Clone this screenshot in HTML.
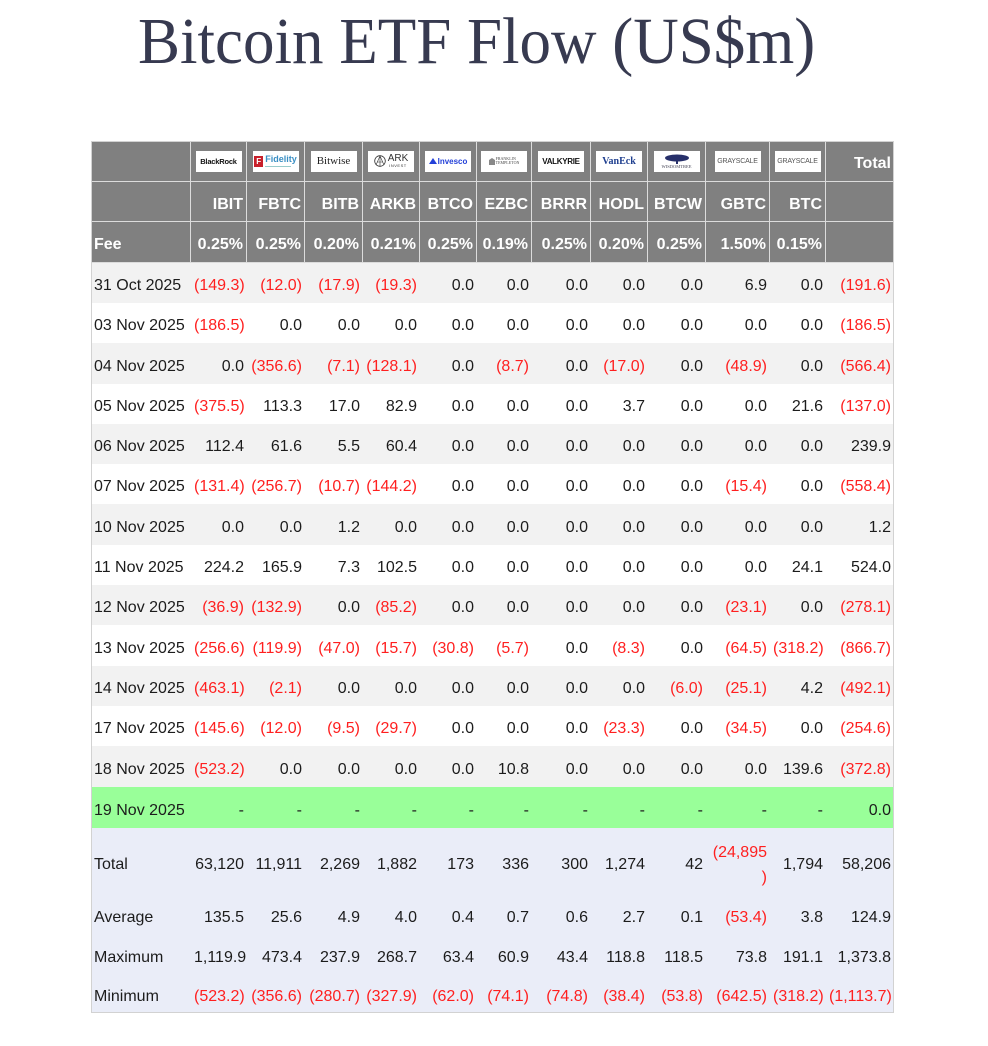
<!DOCTYPE html>
<html><head><meta charset="utf-8">
<style>
*{margin:0;padding:0;box-sizing:border-box}
html,body{width:988px;height:1046px;background:#fff;overflow:hidden}
body{position:relative;font-family:"Liberation Sans",Arial,sans-serif}
.title{position:absolute;left:138px;top:11px;font-family:"Liberation Serif","Times New Roman",serif;font-size:63px;line-height:63px;color:#373a50;white-space:nowrap;transform:scaleY(1.05);transform-origin:0 53px}
table{position:absolute;left:91px;top:141px;width:803px;table-layout:fixed;border-collapse:separate;border-spacing:0;outline:1px solid #d2d2d2;outline-offset:-1px;font-size:16px;color:#1c1c1c}
td,th{padding:6px 3px 0 3px;text-align:right;white-space:nowrap;vertical-align:middle;font-weight:normal;overflow:visible}
td:first-child,th:first-child{text-align:left}
thead th{background:#808080;color:#fff;font-weight:bold;border-right:1px solid #dcdcdc;border-bottom:1px solid #dcdcdc}
thead th:last-child{border-right:none}
thead th.c{text-align:center;padding:0}
.lg{display:inline-flex;align-items:center;justify-content:center;width:46px;height:21px;background:#fff;overflow:hidden;vertical-align:middle;white-space:nowrap}
.r{color:#ff1f1f}
tr.s td{background:#f2f2f2}
tr.w td{background:#fff}
tr.g td{background:#99ff99}
tr.f td{background:#eaedf8}
</style></head><body>
<div class="title">Bitcoin ETF Flow (US$m)</div>
<table>
<colgroup>
<col style="width:100px"><col style="width:56px"><col style="width:58px"><col style="width:58px"><col style="width:57px"><col style="width:57px"><col style="width:55px"><col style="width:59px"><col style="width:57px"><col style="width:58px"><col style="width:64px"><col style="width:56px"><col style="width:68px">
</colgroup>
<thead>
<tr style="height:41px">
<th></th>
<th class="c"><div class="lg" style="font:bold 7.5px 'Liberation Sans',sans-serif;color:#111;letter-spacing:-0.2px">BlackRock</div></th>
<th class="c"><div class="lg"><span style="display:inline-block;width:9px;height:11px;background:#c8202b;color:#fff;font:bold 8px/11px 'Liberation Sans',sans-serif;text-align:center;margin-right:2px">F</span><span style="display:inline-flex;flex-direction:column;align-items:flex-start"><span style="font:bold 9px/9px 'Liberation Sans',sans-serif;color:#3a8fc4">Fidelity</span><span style="display:block;width:26px;height:1px;background:#9cc;margin-top:2px"></span></span></div></th>
<th class="c"><div class="lg" style="font:11px 'Liberation Serif',serif;color:#222">Bitwise</div></th>
<th class="c"><div class="lg"><svg width="12" height="12" viewBox="0 0 12 12" style="margin-right:2px"><circle cx="6" cy="6" r="5.3" fill="none" stroke="#333" stroke-width="0.8"/><path d="M6 1L2 10M6 1L10 10M3 7H9M6 1V11" stroke="#333" stroke-width="0.6" fill="none"/></svg><span style="display:inline-flex;flex-direction:column;align-items:center;color:#333"><span style="font:10px/9px 'Liberation Sans',sans-serif">ARK</span><span style="font:4px/5px 'Liberation Sans',sans-serif;letter-spacing:0.5px">INVEST</span></span></div></th>
<th class="c"><div class="lg"><svg width="8" height="6" viewBox="0 0 8 6" style="margin-right:1px"><path d="M0 6L4 0L8 6Z" fill="#2340d8"/></svg><span style="font:bold 8px 'Liberation Sans',sans-serif;color:#2340d8">Invesco</span></div></th>
<th class="c"><div class="lg"><svg width="6" height="7" viewBox="0 0 6 7" style="margin-right:1px"><path d="M0 2L3 0L6 2V7H0Z" fill="#888"/></svg><span style="font:4px/4.5px 'Liberation Serif',serif;color:#444;text-align:left">FRANKLIN<br>TEMPLETON</span></div></th>
<th class="c"><div class="lg" style="font:bold 8px 'Liberation Sans',sans-serif;color:#111;letter-spacing:-0.3px">VALKYRIE</div></th>
<th class="c"><div class="lg" style="font:bold 10px 'Liberation Serif',serif;color:#1f3f8f">VanEck</div></th>
<th class="c"><div class="lg" style="flex-direction:column"><svg width="26" height="10" viewBox="0 0 26 10"><ellipse cx="13" cy="4" rx="12" ry="3.5" fill="#27306a"/><rect x="12" y="6" width="2" height="4" fill="#27306a"/></svg><span style="font:4.5px/5px 'Liberation Serif',serif;color:#445">WISDOMTREE</span></div></th>
<th class="c"><div class="lg" style="font:7px 'Liberation Sans',sans-serif;color:#555;letter-spacing:-0.2px">GRAYSCALE</div></th>
<th class="c"><div class="lg" style="font:7px 'Liberation Sans',sans-serif;color:#555;letter-spacing:-0.2px">GRAYSCALE</div></th>
<th>Total</th>
</tr>
<tr style="height:40px">
<th></th><th>IBIT</th><th>FBTC</th><th>BITB</th><th>ARKB</th><th>BTCO</th><th>EZBC</th><th>BRRR</th><th>HODL</th><th>BTCW</th><th>GBTC</th><th>BTC</th><th></th>
</tr>
<tr style="height:41px">
<th>Fee</th><th>0.25%</th><th>0.25%</th><th>0.20%</th><th>0.21%</th><th>0.25%</th><th>0.19%</th><th>0.25%</th><th>0.20%</th><th>0.25%</th><th>1.50%</th><th>0.15%</th><th></th>
</tr>
</thead>
<tbody>
<tr class="s" style="height:40px"><td>31 Oct 2025</td><td class="r">(149.3)</td><td class="r">(12.0)</td><td class="r">(17.9)</td><td class="r">(19.3)</td><td>0.0</td><td>0.0</td><td>0.0</td><td>0.0</td><td>0.0</td><td>6.9</td><td>0.0</td><td class="r">(191.6)</td></tr>
<tr class="w" style="height:40px"><td>03 Nov 2025</td><td class="r">(186.5)</td><td>0.0</td><td>0.0</td><td>0.0</td><td>0.0</td><td>0.0</td><td>0.0</td><td>0.0</td><td>0.0</td><td>0.0</td><td>0.0</td><td class="r">(186.5)</td></tr>
<tr class="s" style="height:41px"><td>04 Nov 2025</td><td>0.0</td><td class="r">(356.6)</td><td class="r">(7.1)</td><td class="r">(128.1)</td><td>0.0</td><td class="r">(8.7)</td><td>0.0</td><td class="r">(17.0)</td><td>0.0</td><td class="r">(48.9)</td><td>0.0</td><td class="r">(566.4)</td></tr>
<tr class="w" style="height:40px"><td>05 Nov 2025</td><td class="r">(375.5)</td><td>113.3</td><td>17.0</td><td>82.9</td><td>0.0</td><td>0.0</td><td>0.0</td><td>3.7</td><td>0.0</td><td>0.0</td><td>21.6</td><td class="r">(137.0)</td></tr>
<tr class="s" style="height:40px"><td>06 Nov 2025</td><td>112.4</td><td>61.6</td><td>5.5</td><td>60.4</td><td>0.0</td><td>0.0</td><td>0.0</td><td>0.0</td><td>0.0</td><td>0.0</td><td>0.0</td><td>239.9</td></tr>
<tr class="w" style="height:40px"><td>07 Nov 2025</td><td class="r">(131.4)</td><td class="r">(256.7)</td><td class="r">(10.7)</td><td class="r">(144.2)</td><td>0.0</td><td>0.0</td><td>0.0</td><td>0.0</td><td>0.0</td><td class="r">(15.4)</td><td>0.0</td><td class="r">(558.4)</td></tr>
<tr class="s" style="height:41px"><td>10 Nov 2025</td><td>0.0</td><td>0.0</td><td>1.2</td><td>0.0</td><td>0.0</td><td>0.0</td><td>0.0</td><td>0.0</td><td>0.0</td><td>0.0</td><td>0.0</td><td>1.2</td></tr>
<tr class="w" style="height:40px"><td>11 Nov 2025</td><td>224.2</td><td>165.9</td><td>7.3</td><td>102.5</td><td>0.0</td><td>0.0</td><td>0.0</td><td>0.0</td><td>0.0</td><td>0.0</td><td>24.1</td><td>524.0</td></tr>
<tr class="s" style="height:40px"><td>12 Nov 2025</td><td class="r">(36.9)</td><td class="r">(132.9)</td><td>0.0</td><td class="r">(85.2)</td><td>0.0</td><td>0.0</td><td>0.0</td><td>0.0</td><td>0.0</td><td class="r">(23.1)</td><td>0.0</td><td class="r">(278.1)</td></tr>
<tr class="w" style="height:41px"><td>13 Nov 2025</td><td class="r">(256.6)</td><td class="r">(119.9)</td><td class="r">(47.0)</td><td class="r">(15.7)</td><td class="r">(30.8)</td><td class="r">(5.7)</td><td>0.0</td><td class="r">(8.3)</td><td>0.0</td><td class="r">(64.5)</td><td class="r">(318.2)</td><td class="r">(866.7)</td></tr>
<tr class="s" style="height:40px"><td>14 Nov 2025</td><td class="r">(463.1)</td><td class="r">(2.1)</td><td>0.0</td><td>0.0</td><td>0.0</td><td>0.0</td><td>0.0</td><td>0.0</td><td class="r">(6.0)</td><td class="r">(25.1)</td><td>4.2</td><td class="r">(492.1)</td></tr>
<tr class="w" style="height:40px"><td>17 Nov 2025</td><td class="r">(145.6)</td><td class="r">(12.0)</td><td class="r">(9.5)</td><td class="r">(29.7)</td><td>0.0</td><td>0.0</td><td>0.0</td><td class="r">(23.3)</td><td>0.0</td><td class="r">(34.5)</td><td>0.0</td><td class="r">(254.6)</td></tr>
<tr class="s" style="height:41px"><td>18 Nov 2025</td><td class="r">(523.2)</td><td>0.0</td><td>0.0</td><td>0.0</td><td>0.0</td><td>10.8</td><td>0.0</td><td>0.0</td><td>0.0</td><td>0.0</td><td>139.6</td><td class="r">(372.8)</td></tr>
<tr class="g" style="height:41px"><td>19 Nov 2025</td><td>-</td><td>-</td><td>-</td><td>-</td><td>-</td><td>-</td><td>-</td><td>-</td><td>-</td><td>-</td><td>-</td><td>0.0</td></tr>
<tr class="f" style="height:67px"><td>Total</td><td>63,120</td><td>11,911</td><td>2,269</td><td>1,882</td><td>173</td><td>336</td><td>300</td><td>1,274</td><td>42</td><td class="r" style="line-height:25px">(24,895<br>)</td><td>1,794</td><td>58,206</td></tr>
<tr class="f" style="height:40px"><td>Average</td><td>135.5</td><td>25.6</td><td>4.9</td><td>4.0</td><td>0.4</td><td>0.7</td><td>0.6</td><td>2.7</td><td>0.1</td><td class="r">(53.4)</td><td>3.8</td><td>124.9</td></tr>
<tr class="f" style="height:39px"><td>Maximum</td><td>1,119.9</td><td>473.4</td><td>237.9</td><td>268.7</td><td>63.4</td><td>60.9</td><td>43.4</td><td>118.8</td><td>118.5</td><td>73.8</td><td>191.1</td><td>1,373.8</td></tr>
<tr class="f" style="height:39px"><td>Minimum</td><td class="r">(523.2)</td><td class="r">(356.6)</td><td class="r">(280.7)</td><td class="r">(327.9)</td><td class="r">(62.0)</td><td class="r">(74.1)</td><td class="r">(74.8)</td><td class="r">(38.4)</td><td class="r">(53.8)</td><td class="r">(642.5)</td><td class="r">(318.2)</td><td class="r">(1,113.7)</td></tr>
</tbody>
</table>
</body></html>
